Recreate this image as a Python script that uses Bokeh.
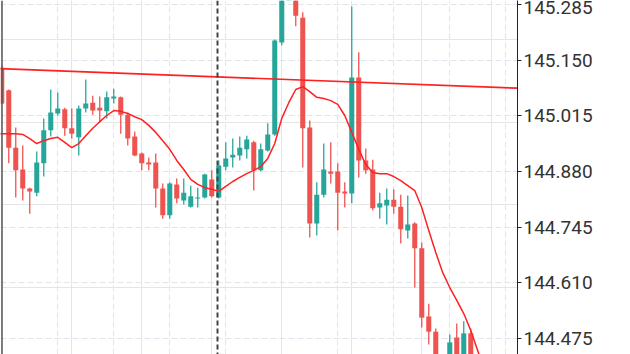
from bokeh.plotting import figure
from bokeh.models import Range1d, LinearAxis, FixedTicker, Span, Grid, NumeralTickFormatter, ColumnDataSource
from bokeh.embed import file_html
from bokeh.resources import INLINE

# ---- data ----
opens = [145.132, 145.077, 144.938, 144.885, 144.839, 144.829, 144.900, 144.980, 145.021, 145.031,
         144.985, 144.963, 145.033, 145.047, 145.035, 145.026, 145.057, 145.060, 145.018, 144.965,
         144.924, 144.902, 144.902, 144.839, 144.774, 144.849, 144.810, 144.795, 144.815, 144.817,
         144.861, 144.817, 144.892, 144.914, 144.919, 144.934, 144.951, 144.883, 144.931, 144.970,
         145.193, 145.331, 145.314, 145.253, 144.987, 144.754, 144.824, 144.880, 144.880, 144.832,
         144.827, 145.108, 144.907, 144.885, 144.793, 144.798, 144.812, 144.795, 144.737, 144.754,
         144.694, 144.529, 144.492, 144.427, 144.398, 144.478, 144.422, 144.488]
highs = [145.137, 145.079, 144.987, 144.943, 144.841, 144.929, 145.009, 145.079, 145.072, 145.035,
         145.033, 145.040, 145.103, 145.064, 145.062, 145.074, 145.081, 145.062, 145.023, 144.977,
         144.926, 144.914, 144.924, 144.851, 144.854, 144.863, 144.863, 144.846, 144.841, 144.875,
         144.883, 144.907, 144.951, 144.960, 144.965, 144.967, 144.955, 144.948, 144.997, 145.200,
         145.355, 145.416, 145.331, 145.266, 145.004, 144.854, 144.948, 144.951, 144.900, 144.854,
         145.280, 145.169, 144.936, 144.909, 144.829, 144.839, 144.837, 144.824, 144.822, 144.757,
         144.708, 144.560, 144.500, 144.432, 144.485, 144.512, 144.517, 144.500]
lows = [145.043, 144.900, 144.817, 144.810, 144.778, 144.820, 144.868, 144.965, 145.016, 144.967,
        144.960, 144.919, 145.023, 145.018, 144.999, 145.009, 145.045, 144.972, 144.943, 144.917,
        144.883, 144.883, 144.793, 144.766, 144.766, 144.803, 144.800, 144.793, 144.793, 144.815,
        144.817, 144.815, 144.883, 144.890, 144.907, 144.912, 144.834, 144.880, 144.929, 144.967,
        145.186, 145.307, 145.232, 144.890, 144.720, 144.725, 144.817, 144.851, 144.737, 144.793,
        144.803, 144.866, 144.875, 144.786, 144.766, 144.752, 144.778, 144.706, 144.718, 144.599,
        144.502, 144.461, 144.398, 144.374, 144.386, 144.403, 144.410, 144.379]
closes = [145.045, 144.938, 144.883, 144.839, 144.832, 144.902, 144.980, 145.023, 145.033, 144.985,
          144.972, 145.033, 145.045, 145.028, 145.028, 145.060, 145.062, 145.018, 144.960, 144.919,
          144.900, 144.897, 144.839, 144.774, 144.851, 144.815, 144.829, 144.820, 144.817, 144.873,
          144.820, 144.895, 144.912, 144.921, 144.938, 144.958, 144.883, 144.934, 144.970, 145.198,
          145.331, 145.392, 145.258, 144.985, 144.754, 144.824, 144.885, 144.875, 144.829, 144.827,
          145.108, 144.907, 144.883, 144.791, 144.803, 144.812, 144.795, 144.740, 144.752, 144.694,
          144.526, 144.492, 144.422, 144.386, 144.466, 144.417, 144.488, 144.398]

# moving-average line, starting one bar before the first visible candle
ma_start = -1
ma_values = [144.972,
             144.972, 144.972, 144.972, 144.970, 144.960, 144.948, 144.955, 144.960, 144.963, 144.951,
             144.938, 144.948, 144.967, 144.985, 145.001, 145.016, 145.028, 145.026, 145.021, 145.013,
             145.006, 144.992, 144.975, 144.955, 144.934, 144.907, 144.885, 144.861, 144.849, 144.841,
             144.837, 144.832, 144.844, 144.856, 144.866, 144.875, 144.883, 144.892, 144.912, 144.948,
             145.009, 145.047, 145.079, 145.086, 145.074, 145.060, 145.057, 145.052, 145.043, 145.016,
             144.975, 144.934, 144.897, 144.878, 144.875, 144.875, 144.868, 144.858, 144.846, 144.834,
             144.793, 144.737, 144.684, 144.635, 144.599, 144.568, 144.536, 144.495, 144.446, 144.393]

# trend line (bar index, price)
trend_index = [-1, 74]
trend_price = [145.130, 145.082]

# vertical session marker (bar index)
marker_index = 30.82

# y-axis ticks
y_ticks = [144.475, 144.610, 144.745, 144.880, 145.015, 145.150, 145.285]
x_grid_bars = [8, 16, 24, 32, 40, 48, 56, 64, 72]

# ---- build ----
UP = "#26a69a"
DOWN = "#ef5350"
n = len(opens)
idx = list(range(n))
colors = [UP if c >= o else DOWN for o, c in zip(opens, closes)]
min_body = 0.003
tops, bots = [], []
for o, c in zip(opens, closes):
    t, b = max(o, c), min(o, c)
    if t - b < min_body:
        mid = (t + b) / 2
        t, b = mid + min_body / 2, mid - min_body / 2
    tops.append(t)
    bots.append(b)

src = ColumnDataSource(dict(x=idx, o=opens, h=highs, l=lows, c=closes, top=tops, bot=bots, color=colors))

p = figure(width=630, height=354, output_backend="svg", toolbar_location=None,
           x_range=Range1d(-0.18, -0.18 + 517 / 7), y_range=Range1d(144.4367, 145.2947),
           x_axis_location=None, y_axis_location=None,
           min_border_left=0, min_border_right=113, min_border_top=0, min_border_bottom=0)
p.outline_line_color = None
p.background_fill_color = "white"
p.border_fill_color = "white"

grid_color = "#dde5ed"
p.add_layout(Grid(dimension=0, ticker=FixedTicker(ticks=x_grid_bars), grid_line_color=grid_color,
                  grid_line_dash="6 3", grid_line_width=1))
p.add_layout(Grid(dimension=1, ticker=FixedTicker(ticks=y_ticks), grid_line_color=grid_color,
                  grid_line_dash="6 3", grid_line_width=1))

yaxis = LinearAxis(ticker=FixedTicker(ticks=y_ticks), formatter=NumeralTickFormatter(format="0.000"))
yaxis.axis_line_color = "#222222"
yaxis.axis_line_width = 1
yaxis.major_tick_out = 4
yaxis.major_tick_in = 0
yaxis.major_tick_line_color = "#222222"
yaxis.minor_tick_line_color = None
yaxis.major_label_text_font = "Roboto"
yaxis.major_label_text_font_size = "19px"
yaxis.major_label_text_color = "#333333"
yaxis.major_label_standoff = 2
p.add_layout(yaxis, "right")

p.segment(x0="x", y0="l", x1="x", y1="h", line_color="color", line_width=1.3, source=src)
p.vbar(x="x", width=0.72, top="top", bottom="bot", fill_color="color", line_color=None, source=src)

ma_idx = [ma_start + i for i in range(len(ma_values))]
p.line(ma_idx, ma_values, line_color="#ff2020", line_width=1.5)
p.line(trend_index, trend_price, line_color="#ff2020", line_width=1.7)

p.add_layout(Span(location=marker_index, dimension="height", line_color="#444444",
                  line_dash="5 3", line_width=2))
p.add_layout(Span(location=0.034, dimension="height", line_color="#555555", line_width=1.5))

open("out.html", "w").write(file_html(p, INLINE))
